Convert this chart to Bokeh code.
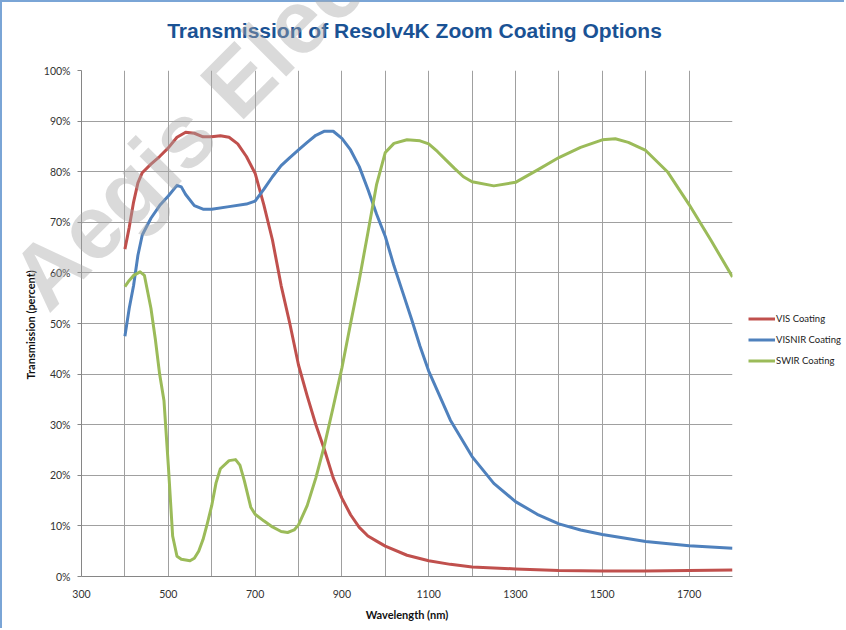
from bokeh.plotting import figure
from bokeh.embed import file_html
from bokeh.resources import INLINE
from bokeh.core.properties import value
from bokeh.models import Legend, LegendItem, FixedTicker, PrintfTickFormatter, Range1d

# ---- data ----
vis_x = [400, 410, 420, 430, 440, 460, 480, 500, 520, 540, 560, 580, 600, 620, 640, 660, 680, 700,
         720, 740, 760, 780, 800, 820, 840, 860, 880, 900, 920, 940, 960, 980, 1000, 1050, 1100,
         1150, 1200, 1300, 1400, 1500, 1600, 1700, 1800]
vis_y = [64.7, 69.0, 74.0, 77.8, 79.8, 81.5, 83.0, 84.7, 86.8, 87.8, 87.6, 86.9, 86.9, 87.1, 86.8,
         85.5, 83.0, 79.7, 73.5, 66.5, 57.5, 50.0, 41.8, 35.7, 30.0, 25.0, 19.5, 15.5, 12.2, 9.7,
         8.0, 7.0, 6.0, 4.2, 3.1, 2.4, 1.9, 1.5, 1.2, 1.1, 1.1, 1.2, 1.3]

visnir_x = [400, 410, 420, 430, 440, 460, 480, 500, 520, 530, 540, 560, 580, 600, 640, 680, 700,
            720, 740, 760, 780, 800, 820, 840, 860, 880, 900, 920, 940, 960, 980, 1000, 1020,
            1040, 1060, 1080, 1100, 1150, 1200, 1250, 1300, 1350, 1400, 1450, 1500, 1600, 1700, 1800]
visnir_y = [47.5, 53.0, 57.5, 63.5, 67.5, 70.8, 73.3, 75.2, 77.3, 77.0, 75.5, 73.3, 72.6, 72.6,
            73.1, 73.6, 74.2, 76.5, 79.0, 81.2, 82.8, 84.3, 85.8, 87.2, 88.0, 88.0, 86.6, 84.3,
            81.0, 76.5, 71.6, 67.2, 61.4, 56.2, 51.0, 45.5, 40.6, 30.9, 23.7, 18.4, 14.8, 12.3,
            10.4, 9.2, 8.3, 6.9, 6.1, 5.6]

swir_x = [400, 410, 420, 435, 445, 460, 470, 480, 490, 500, 510, 520, 530, 550, 560, 570, 580, 590,
          600, 610, 620, 640, 655, 665, 675, 690, 700, 720, 740, 760, 775, 790, 800, 820, 840, 860,
          880, 900, 920, 940, 960, 980, 1000, 1020, 1050, 1080, 1100, 1120, 1140, 1160, 1180, 1200,
          1250, 1300, 1350, 1400, 1450, 1500, 1530, 1560, 1600, 1650, 1700, 1750, 1800]
swir_y = [57.3, 58.5, 59.5, 60.2, 59.5, 53.0, 47.0, 40.0, 34.8, 22.0, 8.0, 4.0, 3.4, 3.1, 3.6, 5.0,
          7.3, 10.5, 14.0, 18.5, 21.3, 22.9, 23.1, 22.0, 19.0, 13.7, 12.3, 11.0, 9.8, 8.9, 8.7, 9.2,
          10.2, 14.0, 19.5, 26.0, 33.5, 41.2, 50.0, 58.6, 68.0, 77.5, 83.8, 85.6, 86.3, 86.1, 85.5,
          84.0, 82.3, 80.6, 79.0, 78.0, 77.2, 77.9, 80.3, 82.8, 84.8, 86.3, 86.5, 85.8, 84.2, 80.0,
          73.5, 66.5, 59.2]

series_names = ["VIS Coating", "VISNIR Coating", "SWIR Coating"]
series_colors = ["#c0504d", "#4f81bd", "#9bbb59"]

x_label_ticks = [300, 500, 700, 900, 1100, 1300, 1500, 1700]
x_grid_ticks = [300, 400, 500, 600, 700, 800, 900, 1000, 1100, 1200, 1300, 1400, 1500, 1600, 1700, 1800]
y_ticks = [0, 10, 20, 30, 40, 50, 60, 70, 80, 90, 100]

title_text = ["Transmission of Resolv4K Zoom Coating Options"]
y_title = "Transmission  (percent)"
x_title = "Wavelength (nm)"
watermark_text = ["Aegis Electronic Group"]

# ---- main figure ----
p = figure(width=844, height=628, x_range=Range1d(300, 1800), y_range=Range1d(0, 100),
           output_backend="svg", toolbar_location=None,
           min_border_left=79, min_border_right=114, min_border_top=68, min_border_bottom=54)
p.outline_line_color = None
p.styles = {"border-left": "2px solid #7aa5d6", "border-top": "2px solid #7aa5d6"}

grid_color = "#a0a0a0"
p.xgrid.ticker = FixedTicker(ticks=x_grid_ticks)
p.ygrid.ticker = FixedTicker(ticks=y_ticks)
p.xgrid.grid_line_color = grid_color
p.ygrid.grid_line_color = grid_color

p.xaxis.ticker = FixedTicker(ticks=x_label_ticks)
p.xaxis.major_tick_line_color = None
p.xaxis.minor_tick_line_color = None
p.xaxis.axis_line_color = "#868686"
p.xaxis.major_label_standoff = 7
p.yaxis.ticker = FixedTicker(ticks=y_ticks)
p.yaxis.formatter = PrintfTickFormatter(format="%d%%")
p.yaxis.major_tick_out = 4
p.yaxis.major_tick_in = 0
p.yaxis.minor_tick_line_color = None
p.yaxis.axis_line_color = "#868686"
p.yaxis.major_tick_line_color = "#868686"
p.yaxis.major_label_standoff = 7
p.xaxis.axis_label = x_title
p.yaxis.axis_label = y_title
p.xaxis.axis_label_standoff = 7
p.yaxis.axis_label_standoff = 4
for ax in (p.xaxis, p.yaxis):
    ax.major_label_text_font = "Lato"
    ax.major_label_text_font_size = "10.5px"
    ax.major_label_text_color = "#333333"
    ax.axis_label_text_font = "Lato"
    ax.axis_label_text_font_style = "bold"
    ax.axis_label_text_font_size = "11px"
    ax.axis_label_text_color = "#111111"

for xs, ys, c in zip([vis_x, visnir_x, swir_x], [vis_y, visnir_y, swir_y], series_colors):
    p.line(xs, ys, line_color=c, line_width=3, line_join="round")

# ---- transparent overlay (separate root placed over the chart): title, watermark, legend ----
overlay = figure(width=846, height=630, x_range=Range1d(0, 846), y_range=Range1d(630, 0),
                 output_backend="svg", toolbar_location=None, x_axis_type=None, y_axis_type=None,
                 min_border=0)
overlay.grid.visible = False
overlay.outline_line_color = None
overlay.background_fill_alpha = 0
overlay.border_fill_alpha = 0
overlay.styles = {"position": "absolute", "left": "0px", "top": "0px", "pointer-events": "none"}

overlay.text(x=[414], y=[30], text=title_text, text_align="center", text_baseline="middle",
             text_font=value("Liberation Sans"), text_font_style="bold",
             text_font_size=value("21px"), text_color="#1a5294")

nan = float("nan")
legend_keys = [overlay.line(x=[nan], y=[nan], line_color=c, line_width=3) for c in series_colors]
legend = Legend(items=[LegendItem(label=n, renderers=[r]) for n, r in zip(series_names, legend_keys)],
                location=(748, 259), padding=0, margin=0, spacing=0,
                glyph_width=27, glyph_height=21, label_height=21, label_standoff=1,
                label_text_font="Lato", label_text_font_size="9.5px", label_text_color="#222222",
                border_line_color=None, background_fill_alpha=0)
overlay.add_layout(legend)

overlay.text(x=[26], y=[292], text=watermark_text, angle=0.785398, text_align="left",
             text_baseline="alphabetic", text_font=value("Liberation Sans"), text_font_style="bold",
             text_font_size=value("90px"), text_color="#a6a6a6", text_alpha=0.42)

open("out.html", "w").write(file_html([p, overlay], INLINE))
